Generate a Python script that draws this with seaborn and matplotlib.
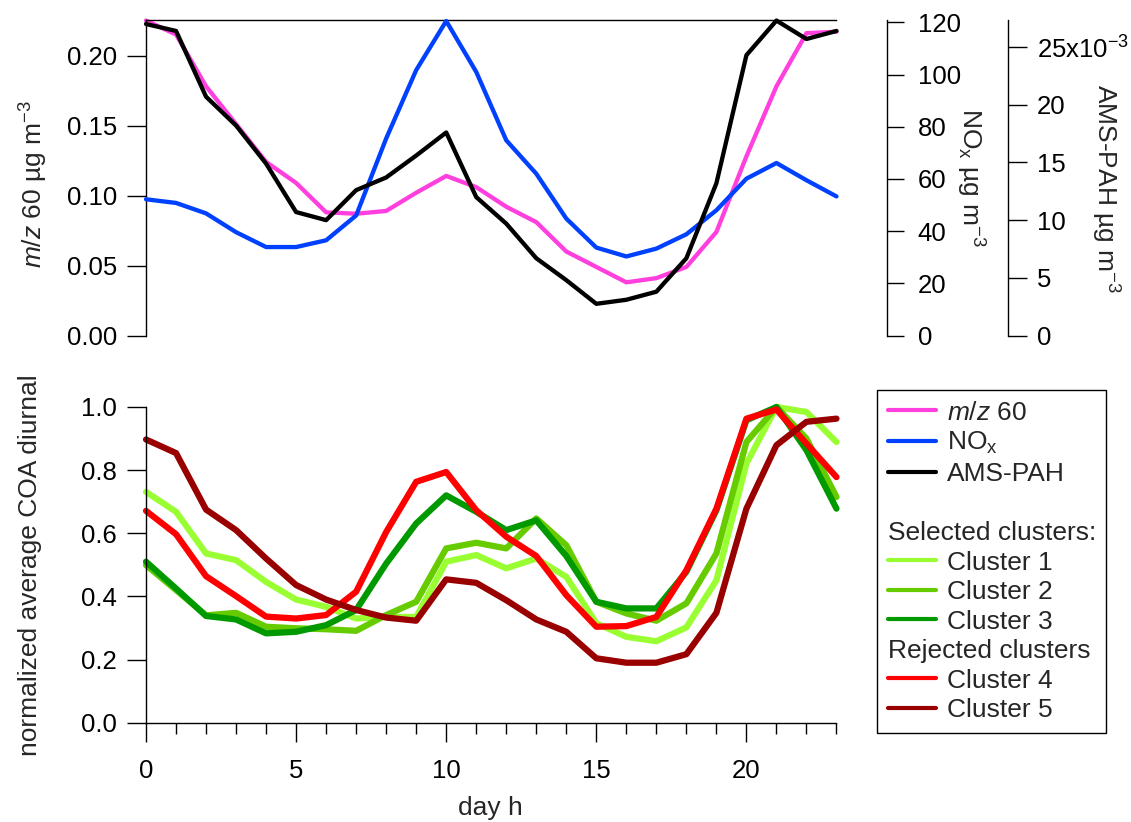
import matplotlib
matplotlib.use("Agg")
import matplotlib.pyplot as plt
from matplotlib.lines import Line2D
from matplotlib.ticker import MultipleLocator, FixedLocator
import seaborn as sns
import pandas as pd

# ---------------- data ----------------
hours = list(range(24))

mz60 = [0.225, 0.215, 0.178, 0.151, 0.124, 0.109, 0.088, 0.087, 0.089, 0.102, 0.114, 0.106,
        0.092, 0.081, 0.060, 0.049, 0.038, 0.041, 0.049, 0.074, 0.128, 0.178, 0.216, 0.217]
nox = [52.2, 50.8, 46.8, 39.6, 33.9, 33.9, 36.5, 46.0, 75.5, 101.7, 120.5, 101.0,
       74.8, 62.0, 44.8, 33.7, 30.3, 33.3, 38.8, 48.0, 60.1, 66.1, 59.5, 53.3]
pah = [27.0, 26.4, 20.7, 18.2, 14.9, 10.7, 10.0, 12.6, 13.7, 15.6, 17.6, 12.0,
       9.7, 6.7, 4.8, 2.75, 3.1, 3.8, 6.7, 13.2, 24.3, 27.3, 25.7, 26.4]   # x10^-3 ug m-3

cluster1 = [0.731, 0.668, 0.536, 0.515, 0.446, 0.390, 0.367, 0.330, 0.335, 0.335, 0.510, 0.531,
            0.489, 0.520, 0.462, 0.315, 0.272, 0.258, 0.302, 0.451, 0.821, 1.000, 0.984, 0.889]
cluster2 = [0.499, 0.420, 0.340, 0.348, 0.304, 0.299, 0.296, 0.291, 0.341, 0.383, 0.552, 0.570,
            0.552, 0.647, 0.562, 0.383, 0.346, 0.323, 0.378, 0.536, 0.889, 1.000, 0.900, 0.715]
cluster3 = [0.510, 0.425, 0.338, 0.327, 0.283, 0.288, 0.309, 0.357, 0.504, 0.631, 0.720, 0.668,
            0.610, 0.641, 0.528, 0.383, 0.362, 0.362, 0.478, 0.673, 0.958, 1.000, 0.863, 0.678]
cluster4 = [0.671, 0.597, 0.464, 0.401, 0.336, 0.330, 0.341, 0.415, 0.604, 0.763, 0.794, 0.673,
            0.589, 0.528, 0.404, 0.304, 0.306, 0.335, 0.483, 0.678, 0.963, 0.992, 0.884, 0.778]
cluster5 = [0.897, 0.854, 0.675, 0.610, 0.520, 0.436, 0.390, 0.357, 0.333, 0.323, 0.454, 0.443,
            0.388, 0.327, 0.288, 0.204, 0.190, 0.190, 0.217, 0.348, 0.678, 0.879, 0.953, 0.963]

cluster_names = ["Cluster 1", "Cluster 2", "Cluster 3", "Cluster 4", "Cluster 5"]
cluster_colors = ["#99FF33", "#66CC00", "#009900", "#FF0000", "#990000"]
top_colors = {"mz60": "#FF40DF", "nox": "#0040FF", "pah": "#000000"}

nox_ticks = [0, 20, 40, 60, 80, 100, 120]
pah_ticks = [0, 5, 10, 15, 20, 25]
pah_ticklabels = ["0", "5", "10", "15", "20", "25x10$^{-3}$"]

# ---------------- style ----------------
sns.set_theme(style="white")
plt.rcParams["font.family"] = ["Liberation Sans", "DejaVu Sans"]
plt.rcParams["mathtext.fontset"] = "custom"
plt.rcParams["mathtext.rm"] = "Liberation Sans"
plt.rcParams["mathtext.it"] = "Liberation Sans:italic"
plt.rcParams["mathtext.bf"] = "Liberation Sans:bold"
plt.rcParams["axes.unicode_minus"] = False
FS = 19      # labels / legend
TFS = 18.5   # tick labels

fig = plt.figure(figsize=(11.31, 8.22), dpi=100)
ax1 = fig.add_axes([0.1291, 0.5918, 0.6105, 0.3839])
ax2 = fig.add_axes([0.1291, 0.1208, 0.6105, 0.3841])
ax_nox = ax1.twinx()
ax_pah = ax1.twinx()

# ---------------- top panel ----------------
sns.lineplot(x=hours, y=mz60, ax=ax1, color=top_colors["mz60"], linewidth=3.1, clip_on=False)
sns.lineplot(x=hours, y=nox, ax=ax_nox, color=top_colors["nox"], linewidth=3.1, clip_on=False)
sns.lineplot(x=hours, y=pah, ax=ax_pah, color=top_colors["pah"], linewidth=3.1, clip_on=False)

ax1.set_xlim(0, 23)
ax1.set_ylim(0, 0.2254)
ax_nox.set_ylim(0, 120.9)
ax_pah.set_ylim(0, 27.35)

for a in (ax1, ax_nox, ax_pah):
    a.set_facecolor("none")
    for s in a.spines.values():
        s.set_linewidth(1.0)
        s.set_color("black")
    a.grid(False)

ax1.spines["bottom"].set_visible(False)
ax1.spines["right"].set_visible(False)
ax1.spines["top"].set_visible(True)
ax1.set_xticks([])
ax1.yaxis.set_major_locator(MultipleLocator(0.05))
ax1.yaxis.set_major_formatter(matplotlib.ticker.FormatStrFormatter("%.2f"))
ax1.tick_params(axis="y", which="major", left=True, direction="out", length=14, width=1.0,
                pad=7, labelsize=TFS, colors="black")
ax1.set_ylabel("$m/z$ 60 µg m$^{-3}$", fontsize=FS)
ax1.yaxis.set_label_coords(-0.163, 0.48)
ax1.yaxis.label.set(va="center", ha="center")

for a, pos in ((ax_nox, 1.0731), (ax_pah, 1.2484)):
    a.spines["right"].set_position(("axes", pos))
    a.spines["left"].set_visible(False)
    a.spines["top"].set_visible(False)
    a.spines["bottom"].set_visible(False)
    a.set_xticks([])

ax_nox.yaxis.set_major_locator(FixedLocator(nox_ticks))
ax_nox.tick_params(axis="y", right=True, direction="out", length=12, width=1.0, pad=10,
                   labelsize=TFS, colors="black")
ax_nox.set_ylabel("NO$_\\mathregular{x}$ µg m$^{-3}$", fontsize=FS, rotation=270)
ax_nox.yaxis.set_label_coords(1.193, 0.5)
ax_nox.yaxis.label.set(va="center", ha="center")

ax_pah.set_yticks(pah_ticks)
ax_pah.set_yticklabels(pah_ticklabels)
ax_pah.tick_params(axis="y", right=True, direction="out", length=14, width=1.0, pad=7,
                   labelsize=TFS, colors="black")
ax_pah.set_ylabel("AMS-PAH µg m$^{-3}$", fontsize=FS, rotation=270)
ax_pah.yaxis.set_label_coords(1.389, 0.467)
ax_pah.yaxis.label.set(va="center", ha="center")

# ---------------- bottom panel ----------------
df = pd.DataFrame({"hour": hours * 5,
                   "value": cluster1 + cluster2 + cluster3 + cluster4 + cluster5,
                   "cluster": sum([[n] * 24 for n in cluster_names], [])})
sns.lineplot(data=df, x="hour", y="value", hue="cluster", hue_order=cluster_names,
             palette=dict(zip(cluster_names, cluster_colors)), linewidth=4.5,
             ax=ax2, legend=False, clip_on=False, sort=False)

ax2.set_xlim(0, 23)
ax2.set_ylim(0, 1.0)
ax2.grid(False)
for side in ("top", "right"):
    ax2.spines[side].set_visible(False)
for side in ("left", "bottom"):
    ax2.spines[side].set_linewidth(1.0)
    ax2.spines[side].set_color("black")
ax2.xaxis.set_major_locator(MultipleLocator(5))
ax2.xaxis.set_minor_locator(MultipleLocator(1))
ax2.yaxis.set_major_locator(MultipleLocator(0.2))
ax2.yaxis.set_major_formatter(matplotlib.ticker.FormatStrFormatter("%.1f"))
ax2.tick_params(axis="both", which="major", direction="out", length=14, width=1.0,
                labelsize=TFS, colors="black", bottom=True, left=True)
ax2.tick_params(axis="x", which="major", pad=12)
ax2.tick_params(axis="y", which="major", pad=7)
ax2.tick_params(axis="x", which="minor", direction="out", length=8, width=1.0,
                bottom=True, colors="black")
ax2.set_xlabel("day h", fontsize=FS)
ax2.xaxis.set_label_coords(0.4994, -0.27)
ax2.xaxis.label.set(va="center", ha="center")
ax2.set_ylabel("normalized average COA diurnal", fontsize=FS)
ax2.yaxis.set_label_coords(-0.168, 0.50)
ax2.yaxis.label.set(va="center", ha="center")

# ---------------- legend ----------------
blank = Line2D([], [], color="none")
handles = [Line2D([], [], color=top_colors["mz60"], lw=3),
           Line2D([], [], color=top_colors["nox"], lw=3),
           Line2D([], [], color=top_colors["pah"], lw=3),
           blank, blank]
labels = ["$m/z$ 60", "NO$_\\mathregular{x}$", "AMS-PAH", " ", "Selected clusters:"]
for n, c in zip(cluster_names[:3], cluster_colors[:3]):
    handles.append(Line2D([], [], color=c, lw=3))
    labels.append(n)
handles.append(blank)
labels.append("Rejected clusters")
for n, c in zip(cluster_names[3:], cluster_colors[3:]):
    handles.append(Line2D([], [], color=c, lw=3))
    labels.append(n)

leg = fig.legend(handles, labels, loc="upper left", bbox_to_anchor=(0.7754, 0.5255),
                 bbox_transform=fig.transFigure, borderaxespad=0, fontsize=FS,
                 frameon=True, fancybox=False, edgecolor="black", framealpha=1,
                 handlelength=1.82, handletextpad=0.42, labelspacing=0.21,
                 borderpad=0.40)
leg.get_frame().set_linewidth(1.0)
header_rows = [3, 4, 8]
column = leg._legend_handle_box.get_children()[0]
rows = column.get_children()
for i in header_rows:
    hp = rows[i]
    hp.get_children()[0].width = 0
    hp.sep = 0

fig.savefig("out.png", dpi=100)
